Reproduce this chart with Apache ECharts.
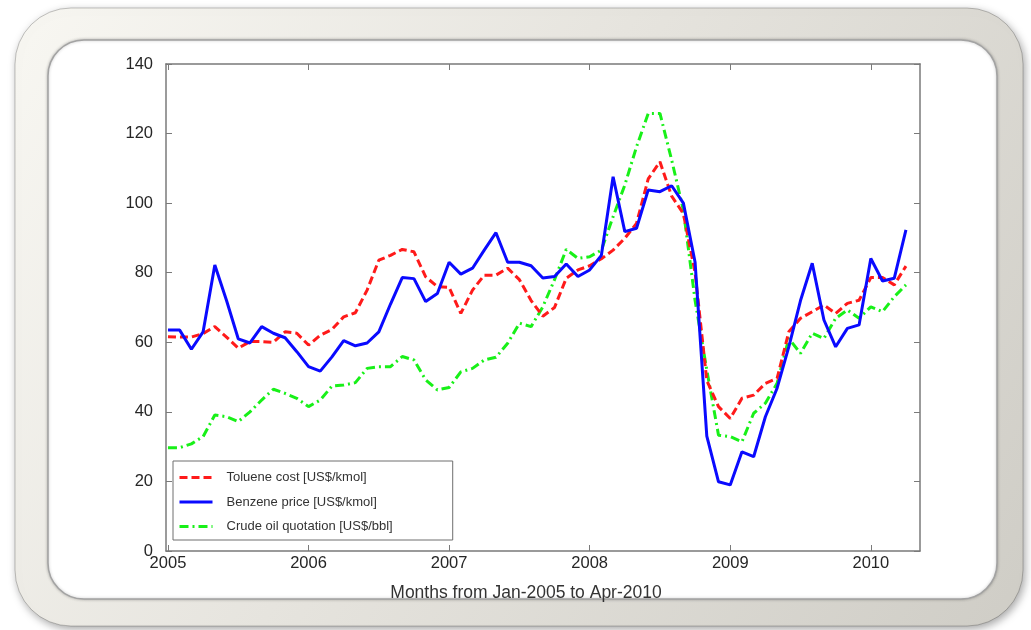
<!DOCTYPE html>
<html>
<head>
<meta charset="utf-8">
<style>
  html, body { margin: 0; padding: 0; background: #ffffff; }
  #chart { width: 1031px; height: 630px; }
</style>
<script src="https://cdn.jsdelivr.net/npm/echarts@6/dist/echarts.min.js"></script>
</head>
<body>
<div id="chart"></div>
<script>
// Monthly series, Jan-2005 .. Apr-2010 (64 months)
const startYear = 2005;
const yearTicks = [2005, 2006, 2007, 2008, 2009, 2010];
const xTitle = 'Months from Jan-2005 to Apr-2010';

const tolueneCost = [
  61.6, 61.5, 61.5, 62.5, 64.5, 61.5, 58.3, 60.2, 60.2, 60.0,
  63.0, 62.6, 59.2, 62.0, 63.7, 67.3, 68.5, 75.0, 83.6, 85.0,
  86.7, 86.0, 78.8, 76.0, 75.8, 68.3, 75.0, 79.3, 79.3, 81.3,
  78.0, 72.0, 67.5, 70.0, 78.4, 80.8, 82.0, 84.0, 86.5, 89.9,
  94.2, 107.0, 111.9, 102.0, 97.0, 80.0, 49.0, 41.5, 38.1, 43.9,
  44.8, 48.2, 49.6, 63.0, 66.9, 68.8, 70.7, 68.3, 71.2, 72.1,
  78.6, 78.6, 76.5, 81.9
];

const benzenePrice = [
  63.5, 63.5, 58.0, 63.0, 82.2, 72.0, 61.0, 59.8, 64.5, 62.6,
  61.3, 57.3, 53.0, 51.7, 55.8, 60.5, 59.0, 59.8, 63.0, 71.0,
  78.6, 78.3, 71.7, 74.0, 83.0, 79.6, 81.3, 86.5, 91.5, 83.0,
  83.0, 82.0, 78.5, 78.9, 82.5, 78.9, 80.8, 85.0, 107.6, 91.8,
  92.8, 103.8, 103.3, 105.0, 100.0, 83.0, 33.0, 19.9, 19.0, 28.5,
  27.1, 38.6, 46.8, 58.7, 72.0, 82.7, 66.4, 58.7, 64.0, 65.0,
  84.1, 77.6, 78.4, 92.3
];

const crudeOil = [
  29.7, 29.7, 30.8, 32.9, 39.1, 38.6, 37.2, 40.0, 43.4, 46.5,
  45.3, 43.9, 41.5, 43.4, 47.4, 47.7, 48.4, 52.5, 53.0, 53.0,
  55.9, 54.9, 49.2, 46.3, 47.0, 51.5, 52.5, 54.9, 55.7, 59.7,
  65.5, 64.5, 70.2, 78.0, 86.7, 84.1, 84.6, 86.5, 96.1, 105.2,
  116.2, 125.8, 125.8, 112.4, 98.0, 72.0, 52.0, 33.3, 32.9, 31.4,
  39.6, 42.5, 48.2, 61.1, 56.8, 62.6, 61.1, 66.9, 69.3, 66.9,
  70.2, 68.8, 73.1, 76.5
];

const seriesNames = [
  'Toluene cost [US$/kmol]',
  'Benzene price [US$/kmol]',
  'Crude oil quotation [US$/bbl]'
];

// pair each monthly value with its position in decimal years
function toPoints(values) {
  return values.map((v, i) => [startYear + i / 12, v]);
}

const chart = echarts.init(document.getElementById('chart'), null, { renderer: 'canvas' });

const axisGray = '#7a7a7a';
const textColor = '#262626';
const fontFamily = 'Liberation Sans, Arial, sans-serif';

const xMin = 2004.986;
const xMax = 2010.35;

const option = {
  backgroundColor: '#ffffff',
  animation: false,
  graphic: [
    {
      type: 'rect',
      z: -20,
      shape: { x: 15, y: 8, width: 1008, height: 618, r: 56 },
      style: {
        fill: new echarts.graphic.LinearGradient(0, 0, 1, 1, [
          { offset: 0, color: '#f8f7f2' },
          { offset: 0.45, color: '#e6e4de' },
          { offset: 1, color: '#cfcdc6' }
        ]),
        stroke: 'rgba(0,0,0,0.22)',
        lineWidth: 1,
        shadowBlur: 8,
        shadowOffsetX: 2,
        shadowOffsetY: 3,
        shadowColor: 'rgba(0,0,0,0.35)'
      }
    },
    {
      type: 'rect',
      z: -19,
      shape: { x: 48, y: 40, width: 949, height: 559, r: 36 },
      style: {
        fill: '#ffffff',
        stroke: '#a3a3a3',
        lineWidth: 1.5,
        shadowBlur: 3,
        shadowColor: 'rgba(0,0,0,0.25)'
      }
    },
    {
      type: 'text',
      z: 10,
      x: 526,
      y: 593,
      style: {
        text: xTitle,
        fontFamily: fontFamily,
        fontSize: 17.5,
        fill: '#333333',
        align: 'center',
        verticalAlign: 'middle'
      }
    }
  ],
  grid: {
    left: 166,
    top: 64,
    width: 754,
    height: 487
  },
  legend: {
    orient: 'vertical',
    left: 173,
    top: 461,
    data: seriesNames,
    itemWidth: 33,
    itemHeight: 14,
    itemGap: 11.5,
    padding: [10, 60, 7, 5],
    backgroundColor: '#ffffff',
    borderColor: '#6e6e6e',
    borderWidth: 1,
    borderRadius: 0,
    selectedMode: false,
    itemStyle: { opacity: 0 },
    lineStyle: { width: 3 },
    textStyle: {
      fontFamily: fontFamily,
      fontSize: 13,
      color: '#333333',
      padding: [0, 0, 0, 9]
    }
  },
  xAxis: [
    {
      type: 'value',
      position: 'bottom',
      min: xMin,
      max: xMax,
      axisLine: { show: true, onZero: false, lineStyle: { color: axisGray, width: 1.5 } },
      axisTick: { show: true, inside: true, length: 6, customValues: yearTicks, lineStyle: { color: axisGray } },
      axisLabel: {
        customValues: yearTicks,
        formatter: v => String(Math.round(v)),
        fontFamily: fontFamily,
        fontSize: 16.5,
        color: textColor,
        margin: 4
      },
      splitLine: { show: false }
    },
    {
      type: 'value',
      position: 'top',
      min: xMin,
      max: xMax,
      axisLine: { show: true, onZero: false, lineStyle: { color: axisGray, width: 1.5 } },
      axisTick: { show: true, inside: true, length: 6, customValues: yearTicks, lineStyle: { color: axisGray } },
      axisLabel: { show: false },
      splitLine: { show: false }
    }
  ],
  yAxis: [
    {
      type: 'value',
      position: 'left',
      min: 0,
      max: 140,
      interval: 20,
      axisLine: { show: true, onZero: false, lineStyle: { color: axisGray, width: 1.5 } },
      axisTick: { show: true, inside: true, length: 6, lineStyle: { color: axisGray } },
      axisLabel: { fontFamily: fontFamily, fontSize: 16.5, color: textColor, margin: 13 },
      splitLine: { show: false }
    },
    {
      type: 'value',
      position: 'right',
      min: 0,
      max: 140,
      interval: 20,
      axisLine: { show: true, onZero: false, lineStyle: { color: axisGray, width: 1.5 } },
      axisTick: { show: true, inside: true, length: 6, lineStyle: { color: axisGray } },
      axisLabel: { show: false },
      splitLine: { show: false }
    }
  ],
  series: [
    {
      name: seriesNames[0],
      type: 'line',
      data: toPoints(tolueneCost),
      symbol: 'none',
      z: 3,
      color: '#ff1a1a',
      lineStyle: { color: '#ff1a1a', width: 3, type: [8, 4] }
    },
    {
      name: seriesNames[1],
      type: 'line',
      data: toPoints(benzenePrice),
      symbol: 'none',
      z: 4,
      color: '#0a0aff',
      lineStyle: { color: '#0a0aff', width: 3, type: 'solid' }
    },
    {
      name: seriesNames[2],
      type: 'line',
      data: toPoints(crudeOil),
      symbol: 'none',
      z: 2,
      color: '#18f018',
      lineStyle: { color: '#18f018', width: 3, type: [9, 4, 2, 4] }
    }
  ]
};

chart.setOption(option);
</script>
</body>
</html>
